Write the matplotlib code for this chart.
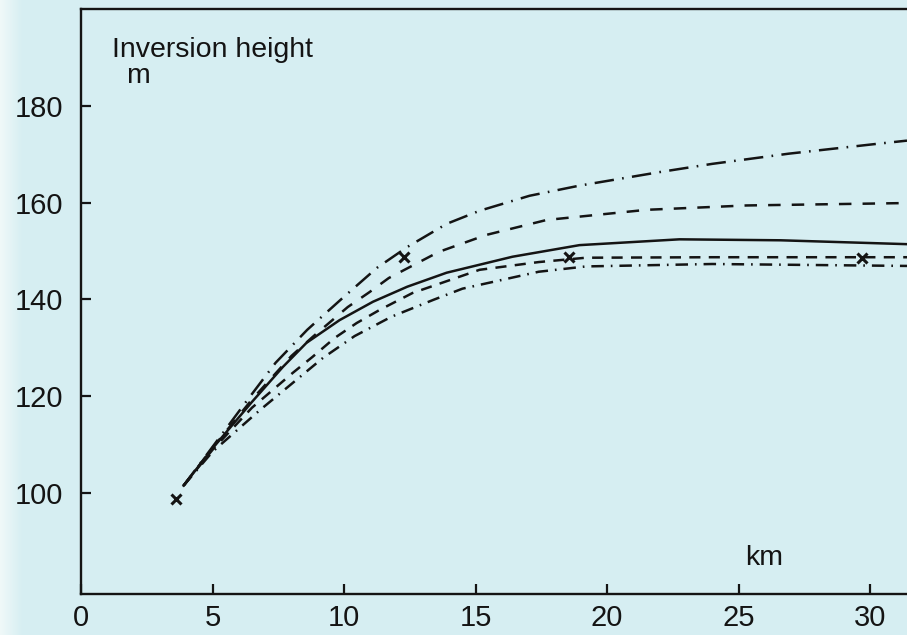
import numpy as np
import matplotlib.pyplot as plt
from matplotlib.colors import LinearSegmentedColormap

plt.rcParams['font.family'] = ['Liberation Sans', 'DejaVu Sans']
plt.rcParams['lines.scale_dashes'] = False

# distance downwind (km) and inversion height (m) for each curve
x_top = [3.9, 5.0, 6.3, 7.4, 8.6, 9.95, 11.25, 12.4, 13.9, 15.15, 17.05, 18.95, 22.0, 24.0, 26.9, 30.2, 31.4]
y_top = [101.5, 109.5, 119.0, 126.9, 133.7, 140.3, 146.5, 150.8, 155.6, 158.3, 161.4, 163.5, 166.3, 168.0, 170.1, 172.1, 172.8]

x_dash = [3.9, 5.0, 6.5, 8.0, 8.8, 9.47, 10.14, 10.97, 11.7, 13.6, 15.4, 17.7, 21.5, 25.3, 31.4]
y_dash = [101.5, 109.3, 119.3, 128.3, 132.2, 135.3, 138.4, 141.5, 144.4, 149.8, 153.3, 156.4, 158.5, 159.4, 159.9]

x_solid = [3.9, 5.0, 6.5, 7.67, 8.57, 9.83, 11.1, 12.4, 13.9, 16.4, 18.95, 22.75, 26.6, 31.4]
y_solid = [101.5, 109.2, 118.8, 126.0, 131.0, 135.7, 139.5, 142.6, 145.5, 148.8, 151.2, 152.4, 152.2, 151.4]

x_low_dash = [3.9, 5.0, 6.5, 8.05, 8.8, 9.64, 10.48, 11.35, 12.6, 15.15, 17.4, 19.2, 24.0, 31.4]
y_low_dash = [101.5, 108.9, 117.6, 124.8, 128.1, 132.0, 135.1, 137.8, 141.3, 146.1, 147.7, 148.6, 148.7, 148.7]

x_low_dd = [3.9, 5.0, 6.8, 9.2, 10.4, 11.8, 13.4, 14.5, 17.4, 19.2, 24.0, 31.4]
y_low_dd = [101.5, 108.5, 117.1, 127.9, 132.4, 136.4, 139.9, 142.2, 145.7, 146.8, 147.3, 146.9]

# observed points
x_obs = [3.63, 12.26, 18.57, 29.7]
y_obs = [98.8, 148.8, 148.8, 148.6]

bg = '#d6eef2'
ink = '#141414'
fig = plt.figure(figsize=(9.07, 6.35), dpi=100, facecolor=bg)

# paler paper edge fading in from the left
edge = fig.add_axes([0, 0, 0.025, 1], zorder=0)
edge.imshow(np.linspace(0, 1, 50)[None, :], aspect='auto',
            cmap=LinearSegmentedColormap.from_list('edge', ['#f0f9f9', bg]))
edge.set_axis_off()

ax = fig.add_axes([0.0893, 0.0646, 0.9107, 0.9212], facecolor=bg, zorder=1)

lw = 1.8
ax.plot(x_top, y_top, color=ink, lw=lw, dashes=(14, 6, 1.2, 6))
ax.plot(x_dash, y_dash, color=ink, lw=lw, dashes=(9, 8))
ax.plot(x_solid, y_solid, color=ink, lw=lw)
ax.plot(x_low_dash, y_low_dash, color=ink, lw=lw, dashes=(8, 6))
ax.plot(x_low_dd, y_low_dd, color=ink, lw=lw, dashes=(9, 5, 1.2, 5))
ax.plot(x_obs, y_obs, 'x', color=ink, ms=7, mew=2.2)

ax.set_xlim(0, 31.4)
ax.set_ylim(79.1, 200)
ax.set_xticks([0, 5, 10, 15, 20, 25, 30])
ax.set_yticks([100, 120, 140, 160, 180])
ax.tick_params(direction='in', length=7, width=1.6, labelsize=21, colors=ink)
ax.tick_params(axis='x', pad=7.5)
ax.tick_params(axis='y', pad=13)
for side in ['left', 'bottom', 'top']:
    ax.spines[side].set_linewidth(1.7)
    ax.spines[side].set_color(ink)
ax.spines['right'].set_visible(False)

ax.text(1.16, 190.1, 'Inversion height', fontsize=20.5, color=ink, va='baseline')
ax.text(1.73, 184.7, 'm', fontsize=20.5, color=ink, va='baseline')
ax.text(25.95, 85.1, 'km', fontsize=20.5, color=ink, va='baseline', ha='center')

fig.savefig('out.png', dpi=100, facecolor=bg)
